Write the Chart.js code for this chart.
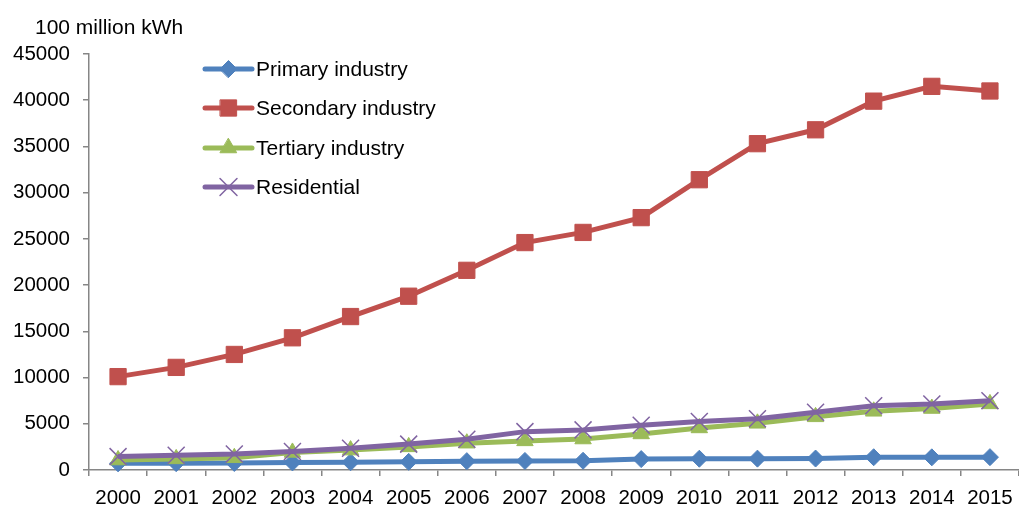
<!DOCTYPE html>
<html>
<head>
<meta charset="utf-8">
<script src="https://cdn.jsdelivr.net/npm/chart.js@4.4.0/dist/chart.umd.min.js"></script>
<style>
  html, body { margin: 0; padding: 0; background: #fff; }
  #wrap { width: 1019px; height: 509px; position: relative; }
</style>
</head>
<body>
<div id="wrap"><canvas id="power-chart"></canvas></div>
<script>
const years = ['2000', '2001', '2002', '2003', '2004', '2005', '2006', '2007',
               '2008', '2009', '2010', '2011', '2012', '2013', '2014', '2015'];

const primary = [720, 740, 760, 820, 840, 880, 960, 980, 1000, 1180, 1220, 1230, 1240, 1380, 1370, 1390];
const secondary = [10100, 11100, 12500, 14300, 16600, 18800, 21600, 24600, 25700, 27300, 31400, 35300, 36800, 39900, 41500, 41000];
const tertiary = [1080, 1200, 1320, 1900, 2150, 2500, 2900, 3150, 3350, 3900, 4550, 5050, 5750, 6350, 6650, 7150];
const residential = [1450, 1600, 1730, 2000, 2350, 2800, 3330, 4150, 4340, 4850, 5240, 5550, 6250, 6950, 7150, 7500];

const yTicks = [0, 5000, 10000, 15000, 20000, 25000, 30000, 35000, 40000, 45000];

const fontFamily = '"Liberation Sans", Arial, sans-serif';
const axisGray = '#868686';

function series(label, values, color, style, radius, order) {
    return {
        label: label,
        data: values,
        borderColor: color,
        backgroundColor: color,
        borderWidth: 5,
        pointStyle: style,
        pointRadius: radius,
        pointHoverRadius: radius,
        pointBorderColor: color,
        pointBackgroundColor: color,
        pointBorderWidth: style === 'crossRot' ? 1.5 : 1,
        tension: 0,
        clip: false,
        order: order,
    };
}

// legend drawn inside the plot: line sample with its marker, then the name
const lineLegend = {
    id: 'lineLegend',
    afterDraw(chart) {
        const ctx = chart.ctx;
        const x0 = 205, x1 = 252, textX = 256;
        const rows = [69, 108, 148, 187];
        ctx.save();
        ctx.font = '21px ' + fontFamily;
        ctx.textBaseline = 'middle';
        ctx.textAlign = 'left';
        chart.data.datasets.forEach((ds, i) => {
            const y = rows[i];
            ctx.strokeStyle = ds.borderColor;
            ctx.lineWidth = ds.borderWidth;
            ctx.lineCap = 'round';
            ctx.beginPath();
            ctx.moveTo(x0, y);
            ctx.lineTo(x1, y);
            ctx.stroke();
            ctx.fillStyle = ds.pointBackgroundColor;
            ctx.strokeStyle = ds.pointBorderColor;
            ctx.lineWidth = ds.pointBorderWidth;
            Chart.helpers.drawPoint(ctx, {
                pointStyle: ds.pointStyle,
                radius: ds.pointRadius,
                rotation: 0,
                borderWidth: ds.pointBorderWidth,
            }, (x0 + x1) / 2, y);
            ctx.fillStyle = '#000';
            ctx.fillText(ds.label, textX, y + 1);
        });
        ctx.restore();
    }
};

// unit label above the value axis
const unitLabel = {
    id: 'unitLabel',
    afterDraw(chart) {
        const ctx = chart.ctx;
        ctx.save();
        ctx.font = '21px ' + fontFamily;
        ctx.fillStyle = '#000';
        ctx.textBaseline = 'middle';
        ctx.textAlign = 'left';
        ctx.fillText('100 million kWh', 35, 28);
        ctx.restore();
    }
};

function createChart() {
    const ctx = document.getElementById('power-chart').getContext('2d');

    new Chart(ctx, {
        type: 'line',
        data: {
            labels: years,
            datasets: [
                series('Primary industry', primary, '#4F81BD', 'rectRot', 8.5, 4),
                series('Secondary industry', secondary, '#C0504D', 'rect', 11.5, 3),
                series('Tertiary industry', tertiary, '#9BBB59', 'triangle', 9.5, 2),
                series('Residential', residential, '#8064A2', 'crossRot', 12, 1),
            ],
        },
        options: {
            responsive: true,
            maintainAspectRatio: false,
            animation: false,
            layout: {
                autoPadding: false,
                padding: { top: 54, right: 0, left: 0, bottom: 0 },
            },
            plugins: {
                legend: { display: false },
                tooltip: { enabled: false },
            },
            scales: {
                x: {
                    offset: true,
                    afterFit(scale) {
                        scale.height = 39;
                        scale.paddingLeft = 0;
                        scale.paddingRight = 0;
                    },
                    border: { color: axisGray, width: 1.5 },
                    grid: {
                        offset: true,
                        drawOnChartArea: false,
                        drawTicks: true,
                        tickLength: 6,
                        color: axisGray,
                        lineWidth: 1.5,
                    },
                    ticks: {
                        color: '#000',
                        font: { family: fontFamily, size: 20.5 },
                        padding: 10,
                        maxRotation: 0,
                        autoSkip: false,
                    },
                },
                y: {
                    min: 0,
                    max: 45000,
                    afterFit(scale) {
                        scale.width = 89;
                        scale.paddingTop = 0;
                        scale.paddingBottom = 0;
                    },
                    afterBuildTicks(scale) {
                        scale.ticks = yTicks.map(v => ({ value: v }));
                    },
                    border: { color: axisGray, width: 1.5 },
                    grid: {
                        drawOnChartArea: false,
                        drawTicks: true,
                        tickLength: 6,
                        color: axisGray,
                        lineWidth: 1.5,
                    },
                    ticks: {
                        color: '#000',
                        font: { family: fontFamily, size: 20.5 },
                        padding: 13,
                        callback: v => String(v),
                    },
                },
            },
        },
        plugins: [lineLegend, unitLabel],
    });
}

createChart();
</script>
</body>
</html>
